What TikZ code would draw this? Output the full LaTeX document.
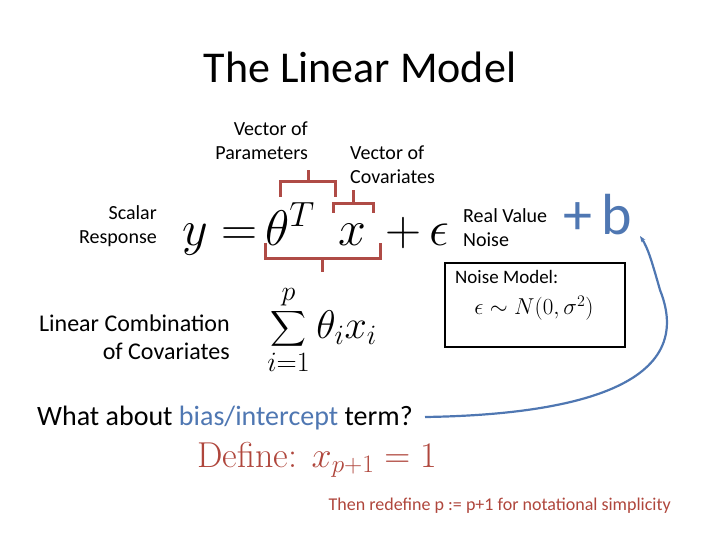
\RequirePackage{fix-cm}
\documentclass[tikz,border=0pt]{standalone}
\usepackage{exscale}
\usepackage{fontspec}
\setsansfont{Carlito}
\usetikzlibrary{arrows.meta}
\definecolor{brk}{RGB}{175,75,70}
\definecolor{bl}{RGB}{79,119,178}
\definecolor{rd}{RGB}{175,70,60}
\begin{document}
\begin{tikzpicture}[x=1pt,y=-1pt,
  lab/.style={font=\sffamily\fontsize{20}{24}\selectfont,inner sep=0pt},
  bigm/.style={font=\fontsize{50}{54}\selectfont,inner sep=0pt},
  brace/.style={draw=brk,line width=3pt}]
\useasboundingbox (0,0) rectangle (720,540);
\node[font=\sffamily\fontsize{44}{46}\selectfont] (title) at (360,67) {The Linear Model};
\node[lab,align=right,anchor=east] (vp) at (308,141) {Vector of\\Parameters};
\node[lab,align=left,anchor=west] (vc) at (350,165) {Vector of\\Covariates};
\node[lab,align=right,anchor=east] (sr) at (157,226) {Scalar\\Response};
\node[lab,align=left,anchor=west] (rv) at (463,228) {Real Value\\Noise};
\node[bigm,anchor=base west] (eqy) at (182,245) {$y=$};
\node[bigm,anchor=base west] (eqth) at (265,245) {$\theta^T$};
\node[bigm,anchor=base west] (eqx) at (338,245) {$x$};
\node[bigm,anchor=base west] (eqe) at (385,245) {$+\,\epsilon$};
\node[font=\sffamily\fontsize{58}{58}\selectfont,text=bl,anchor=base west,inner sep=0pt] (b) at (563,235) {+\,b};
% braces
\draw[brace] (280,197) -- (280,182) -- (335,182) -- (335,197);
\draw[brace] (308,182) -- (308,170);
\draw[brace] (333,213) -- (333,204) -- (373,204) -- (373,213);
\draw[brace] (353,204) -- (353,190);
\draw[brace] (265,243) -- (265,258) -- (380,258) -- (380,243);
\draw[brace] (322,258) -- (322,272);
% sum
\node[font=\fontsize{40}{44}\selectfont,inner sep=0pt] (sum) at (322,330) {$\displaystyle\sum_{i=1}^{p}\theta_i x_i$};
\node[font=\sffamily\fontsize{24}{28}\selectfont,align=right,anchor=east,inner sep=0pt] (lc) at (230,337) {Linear Combination\\of Covariates};
% box
\node[draw,line width=2pt,minimum width=180pt,minimum height=84pt,anchor=north west,inner sep=0pt] (box) at (444,262) {};
\node[font=\sffamily\fontsize{19}{22}\selectfont,anchor=west,inner sep=0pt] (nm) at (455,277) {Noise Model:};
\node[font=\fontsize{23}{26}\selectfont,inner sep=0pt] (nf) at (534,308) {$\epsilon\sim N(0,\sigma^2)$};
% question
\node[font=\sffamily\fontsize{28}{32}\selectfont,anchor=west,inner sep=0pt] (q) at (37,418) {What about \textcolor{bl}{bias/intercept} term?};
\coordinate (qe) at (425,417);
\draw[bl,line width=2.2pt,-{Stealth[length=6pt]}] (qe) .. controls (560,415) and (700,390) .. (660,290) .. controls (652,262) and (648,248) .. (640,236);
\node[font=\fontsize{36}{40}\selectfont,text=rd,anchor=west,inner sep=0pt] (def) at (197,460) {Define: $x_{p+1}=1$};
\node[font=\sffamily\fontsize{18}{22}\selectfont,text=rd,anchor=east,inner sep=0pt] (then) at (671,506) {Then redefine p := p+1 for notational simplicity};
\end{tikzpicture}
\end{document}
